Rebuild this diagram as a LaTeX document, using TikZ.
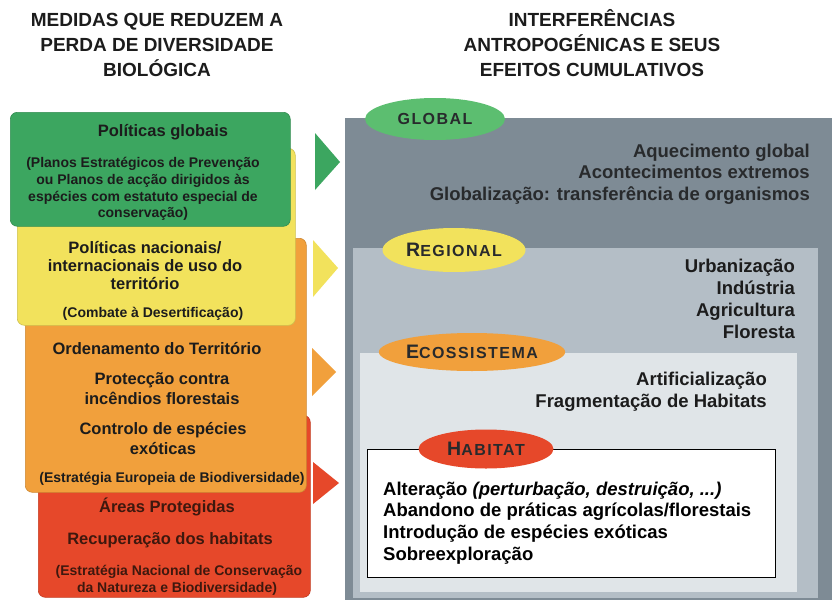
\documentclass[tikz,border=0pt]{standalone}
\usepackage{fontspec}
\setmainfont{Liberation Sans}
\newfontfamily\ellfont[LetterSpace=9]{Liberation Sans}
\usetikzlibrary{shapes.geometric}
\definecolor{cgreen}{RGB}{60,166,96}
\definecolor{cgreenL}{RGB}{92,190,112}
\definecolor{cyellow}{RGB}{242,226,92}
\definecolor{corange}{RGB}{241,160,60}
\definecolor{cred}{RGB}{230,72,42}
\definecolor{pgray}{RGB}{126,139,149}
\definecolor{pmid}{RGB}{180,190,198}
\definecolor{plight}{RGB}{224,229,232}
\definecolor{txt}{RGB}{28,28,28}
\definecolor{gtxt}{RGB}{40,42,44}
\definecolor{rtx}{RGB}{62,24,14}
\newcommand\fcapsize{\fontsize{19.5}{20}\selectfont}
\tikzset{
  lbox/.style={rounded corners=7pt, inner sep=0, anchor=north west, draw=#1!85!black, fill=#1, line width=0.6pt},
  pbox/.style={inner sep=0, anchor=north west, fill=#1},
  big/.style={font=\fontsize{16.5}{18}\selectfont\bfseries, text=txt, inner sep=0, anchor=base},
  small/.style={font=\fontsize{14}{16}\selectfont\bfseries, text=txt, inner sep=0, anchor=base},
  rtxt/.style={font=\fontsize{18.5}{22}\selectfont\bfseries, text=txt, inner sep=0},
  hdr/.style={font=\fontsize{19}{24}\selectfont\bfseries, text=txt, inner sep=0, anchor=base},
  ell/.style={ellipse, inner sep=0, fill=#1, text=gtxt, font=\ellfont\fontsize{16}{18}\selectfont\bfseries}
}
\begin{document}
\begin{tikzpicture}[x=1pt,y=-1pt]
\useasboundingbox (0,0) rectangle (832,602);
\fill[white] (0,0) rectangle (832,602);

% headers
\node[hdr] (hl1) at (157,27) {MEDIDAS QUE REDUZEM A};
\node[hdr] (hl2) at (157,52) {PERDA DE DIVERSIDADE};
\node[hdr] (hl3) at (157,77) {BIOLÓGICA};
\node[hdr] (hr1) at (592,27) {INTERFERÊNCIAS};
\node[hdr] (hr2) at (592,52) {ANTROPOGÉNICAS E SEUS};
\node[hdr] (hr3) at (592,77) {EFEITOS CUMULATIVOS};

% left stacked boxes
\node[lbox=cred, minimum width=272, minimum height=182] (redbox) at (38,415) {};
\node[lbox=corange, minimum width=281, minimum height=254] (orbox) at (25,238) {};
\node[lbox=cyellow, minimum width=278, minimum height=177] (yebox) at (17,148) {};
\node[lbox=cgreen, minimum width=280, minimum height=114] (grbox) at (10,112) {};

% green texts
\node[big] (g1) at (163,136) {Políticas globais};
\foreach \t [count=\i] in {{(Planos Estratégicos de Prevenção}, {ou Planos de acção dirigidos às}, {espécies com estatuto especial de}, {conservação)}}
  \node[small] (gs\i) at (143,{167.5+16.8*(\i-1)}) {\t};

% yellow texts
\foreach \t [count=\i] in {{Políticas nacionais/}, {internacionais de uso do}, {território}}
  \node[big] (y\i) at (145,{253+18.3*(\i-1)}) {\t};
\node[small] (ys) at (153,317) {(Combate à Desertificação)};

% orange texts
\node[big] (o1) at (157,354) {Ordenamento do Território};
\node[big] (o2) at (162,384) {Protecção contra};
\node[big] (o3) at (162,404) {incêndios florestais};
\node[big] (o4) at (163,434) {Controlo de espécies};
\node[big] (o5) at (163,454) {exóticas};
\node[small] (os) at (172,482) {(Estratégia Europeia de Biodiversidade)};

% red texts
\node[big, text=rtx] (r1) at (167,512) {Áreas Protegidas};
\node[big, text=rtx] (r2) at (170,544) {Recuperação dos habitats};
\node[small, text=rtx] (rs1) at (179,575) {(Estratégia Nacional de Conservação};
\node[small, text=rtx] (rs2) at (177,592) {da Natureza e Biodiversidade)};

% triangles
\fill[cgreen] (315,133) -- (340,162) -- (315,190) -- cycle;
\fill[cyellow] (313,240) -- (338,268) -- (313,297) -- cycle;
\fill[corange] (312,348) -- (336,372) -- (312,396) -- cycle;
\fill[cred] (313,462) -- (339,483) -- (313,504) -- cycle;

% right panel
\node[pbox=pgray, minimum width=487, minimum height=482] (outer) at (345,118) {};
\node[pbox=pmid, minimum width=465, minimum height=350] (regbox) at (353,248) {};
\node[pbox=plight, minimum width=437, minimum height=239] (ecobox) at (360,353) {};
\node[pbox=white, draw=black, line width=0.9pt, minimum width=408, minimum height=128] (habbox) at (367,449) {};

% ellipses
\node[ell=cgreenL, minimum width=140, minimum height=42] (eglobal) at (435,119) {GLOBAL};
\node[ell=cyellow, minimum width=143, minimum height=44] (eregional) at (454,250) {{\fcapsize R}EGIONAL};
\node[ell=corange, minimum width=164, minimum height=38] (eeco) at (472,352) {{\fcapsize E}COSSISTEMA};
\node[ell=cred, minimum width=135, minimum height=39] (ehab) at (486,449) {{\fcapsize H}ABITAT};

% right texts
\foreach \t [count=\i] in {{Aquecimento global}, {Acontecimentos extremos}, {Globalização: transferência de organismos}}
  \node[rtxt, text=gtxt, anchor=base east] (gl\i) at (810,{157+21.5*(\i-1)}) {\t};
\foreach \t [count=\i] in {Urbanização, Indústria, Agricultura, Floresta}
  \node[rtxt, anchor=base east] (rg\i) at (795,{272+22*(\i-1)}) {\t};
\foreach \t [count=\i] in {{Artificialização}, {Fragmentação de Habitats}}
  \node[rtxt, anchor=base east] (ec\i) at (767,{385+22*(\i-1)}) {\t};
\foreach \t [count=\i] in {{Alteração \textit{(perturbação, destruição, ...)}}, {Abandono de práticas agrícolas/florestais}, {Introdução de espécies exóticas}, {Sobreexploração}}
  \node[rtxt, text=black, anchor=base west] (hb\i) at (383,{495+21.7*(\i-1)}) {\t};
\end{tikzpicture}
\end{document}
